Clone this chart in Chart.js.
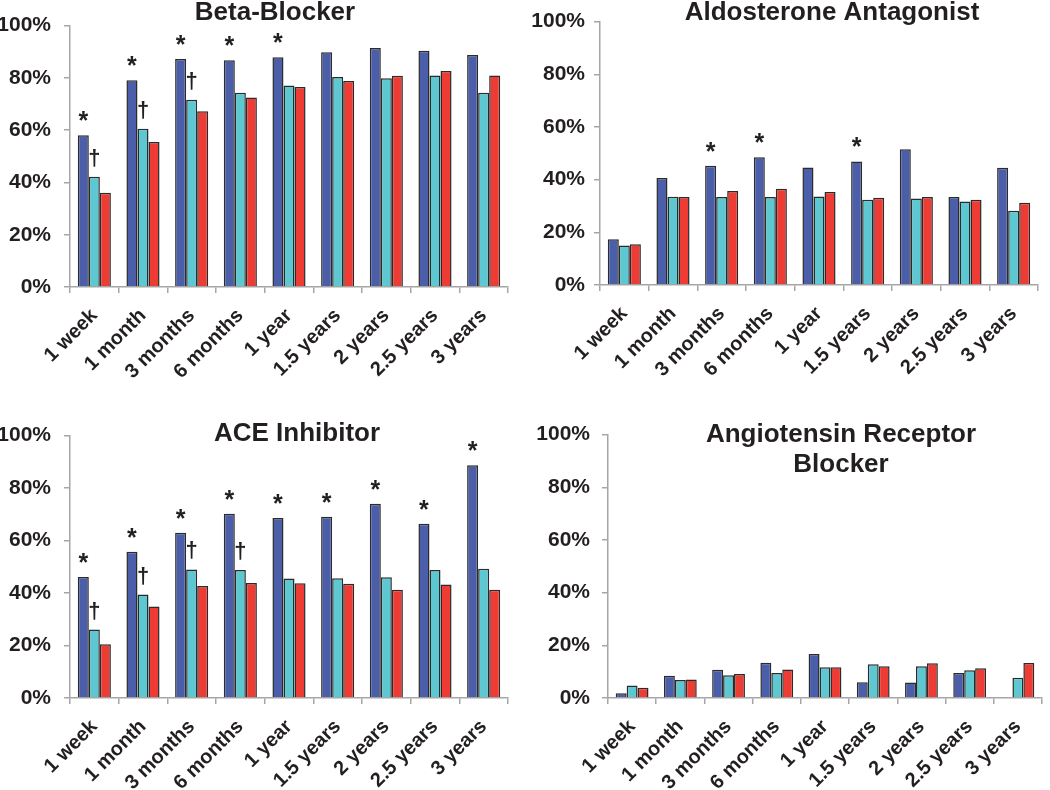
<!DOCTYPE html>
<html>
<head>
<meta charset="utf-8">
<script src="https://cdn.jsdelivr.net/npm/chart.js@4.4.1/dist/chart.umd.min.js"></script>
<style>
  body { margin: 0; background: #fff; width: 1050px; height: 790px; position: relative; overflow: hidden; }
  .panel { position: absolute; }
</style>
</head>
<body>
<div class="panel" style="left:0;top:0;width:525px;height:400px"><canvas id="c1"></canvas></div>
<div class="panel" style="left:520px;top:0;width:530px;height:400px"><canvas id="c2"></canvas></div>
<div class="panel" style="left:0;top:410px;width:525px;height:380px"><canvas id="c3"></canvas></div>
<div class="panel" style="left:520px;top:410px;width:530px;height:380px"><canvas id="c4"></canvas></div>
<script>
const categories = ['1 week', '1 month', '3 months', '6 months', '1 year', '1.5 years', '2 years', '2.5 years', '3 years'];
const yTicks = [0, 20, 40, 60, 80, 100];

// Beta-Blocker
const bbBlue = [58.1, 79.1, 87.2, 86.7, 87.9, 89.8, 91.4, 90.4, 88.8];
const bbCyan = [42.2, 60.5, 71.6, 74.3, 77.1, 80.3, 79.9, 80.9, 74.3];
const bbRed  = [36.1, 55.5, 67.2, 72.5, 76.5, 78.8, 80.8, 82.6, 80.9];
const bbStar   = [1, 1, 1, 1, 1, 0, 0, 0, 0];
const bbDagger = [1, 1, 1, 0, 0, 0, 0, 0, 0];

// Aldosterone Antagonist
const aaBlue = [17.4, 40.6, 45.3, 48.5, 44.6, 46.9, 51.5, 33.4, 44.5];
const aaCyan = [15.0, 33.5, 33.4, 33.4, 33.6, 32.4, 32.8, 31.7, 28.2];
const aaRed  = [15.5, 33.4, 35.7, 36.5, 35.3, 33.1, 33.4, 32.4, 31.2];
const aaStar   = [0, 0, 1, 1, 0, 1, 0, 0, 0];
const aaDagger = [0, 0, 0, 0, 0, 0, 0, 0, 0];

// ACE Inhibitor
const aceBlue = [46.1, 55.7, 63.0, 70.2, 68.6, 69.1, 74.0, 66.4, 88.7];
const aceCyan = [26.1, 39.4, 49.0, 48.8, 45.5, 45.6, 46.0, 48.8, 49.3];
const aceRed  = [20.5, 34.9, 42.7, 43.8, 43.7, 43.5, 41.3, 43.3, 41.3];
const aceStar   = [1, 1, 1, 1, 1, 1, 1, 1, 1];
const aceDagger = [1, 1, 1, 1, 0, 0, 0, 0, 0];

// Angiotensin Receptor Blocker
const arbBlue = [1.8, 8.4, 10.7, 13.4, 16.7, 6.0, 5.9, 9.5, 0];
const arbCyan = [4.7, 6.8, 8.6, 9.5, 11.7, 12.8, 12.1, 10.5, 7.7];
const arbRed  = [3.9, 7.0, 9.1, 10.8, 11.7, 12.1, 13.2, 11.3, 13.3];
const arbStar   = [0, 0, 0, 0, 0, 0, 0, 0, 0];
const arbDagger = [0, 0, 0, 0, 0, 0, 0, 0, 0];

const BLUE = '#4a5ea9';
const CYAN = '#5ec8d2';
const RED = '#ee3b34';
const TEXT = '#231f20';
const AXIS = '#a6a6a6';
const FONT = "'Liberation Sans', Arial, sans-serif";

// draws * over the blue bar and † over the cyan bar, plus the panel title
const marks = {
  id: 'marks',
  afterDatasetsDraw(chart, args, opts) {
    const ctx = chart.ctx;
    ctx.save();
    ctx.fillStyle = TEXT;
    ctx.textAlign = 'center';
    ctx.textBaseline = 'alphabetic';
    const blue = chart.getDatasetMeta(0).data;
    const cyan = chart.getDatasetMeta(1).data;
    ctx.font = 'bold 25px ' + FONT;
    opts.star.forEach((s, i) => {
      if (s) ctx.fillText('*', blue[i].x, blue[i].y - 6);
    });
    ctx.font = 'bold 22px ' + FONT;
    opts.dagger.forEach((d, i) => {
      if (d) ctx.fillText('\u2020', cyan[i].x, cyan[i].y - 12);
    });
    ctx.font = 'bold 26px ' + FONT;
    opts.title.forEach((t, k) => ctx.fillText(t, opts.tx, opts.ty + k * 30));
    ctx.restore();
  }
};

function makeChart(id, blue, cyan, red, star, dagger, title, box) {
  new Chart(document.getElementById(id), {
    type: 'bar',
    data: {
      labels: categories,
      datasets: [
        { data: blue, backgroundColor: BLUE },
        { data: cyan, backgroundColor: CYAN },
        { data: red, backgroundColor: RED }
      ]
    },
    options: {
      responsive: true,
      maintainAspectRatio: false,
      animation: false,
      layout: { padding: { left: 0, top: box.top, right: box.right, bottom: 0 } },
      datasets: {
        bar: {
          borderColor: '#2b2b2b',
          borderWidth: 1.5,
          borderSkipped: 'bottom',
          barPercentage: 1,
          categoryPercentage: 0.68
        }
      },
      plugins: {
        legend: { display: false },
        tooltip: { enabled: false },
        title: { display: false },
        marks: { star: star, dagger: dagger, title: title, tx: box.tx, ty: box.ty }
      },
      scales: {
        x: {
          grid: { display: true, offset: true, drawOnChartArea: false, tickLength: 6, color: AXIS, lineWidth: 1.5 },
          border: { color: AXIS, width: 1.5 },
          ticks: {
            color: TEXT, font: { family: FONT, size: 20, weight: 'bold' },
            minRotation: 45, maxRotation: 45, padding: 11, autoSkip: false
          },
          afterFit(s) { s.height = box.xh; }
        },
        y: {
          min: 0, max: 100,
          afterBuildTicks(s) { s.ticks = yTicks.map(v => ({ value: v })); },
          grid: { display: true, drawOnChartArea: false, tickLength: 6, color: AXIS, lineWidth: 1.5 },
          border: { color: AXIS, width: 1.5 },
          ticks: {
            color: TEXT, font: { family: FONT, size: 21, weight: 'bold' },
            padding: box.yp,
            callback: v => v + '%'
          },
          afterFit(s) { s.width = box.yw; }
        }
      }
    },
    plugins: [marks]
  });
}

makeChart('c1', bbBlue, bbCyan, bbRed, bbStar, bbDagger, ['Beta-Blocker'],
  { top: 17, right: 17, xh: 113, yw: 70, yp: 13, tx: 275, ty: 20 });
makeChart('c2', aaBlue, aaCyan, aaRed, aaStar, aaDagger, ['Aldosterone Antagonist'],
  { top: 15, right: 12, xh: 115, yw: 80, yp: 9, tx: 312, ty: 20 });
makeChart('c3', aceBlue, aceCyan, aceRed, aceStar, aceDagger, ['ACE Inhibitor'],
  { top: 17, right: 17, xh: 92, yw: 70, yp: 13, tx: 297, ty: 31 });
makeChart('c4', arbBlue, arbCyan, arbRed, arbStar, arbDagger, ['Angiotensin Receptor', 'Blocker'],
  { top: 17, right: 8, xh: 92, yw: 88, yp: 12, tx: 321, ty: 32 });
</script>
</body>
</html>
